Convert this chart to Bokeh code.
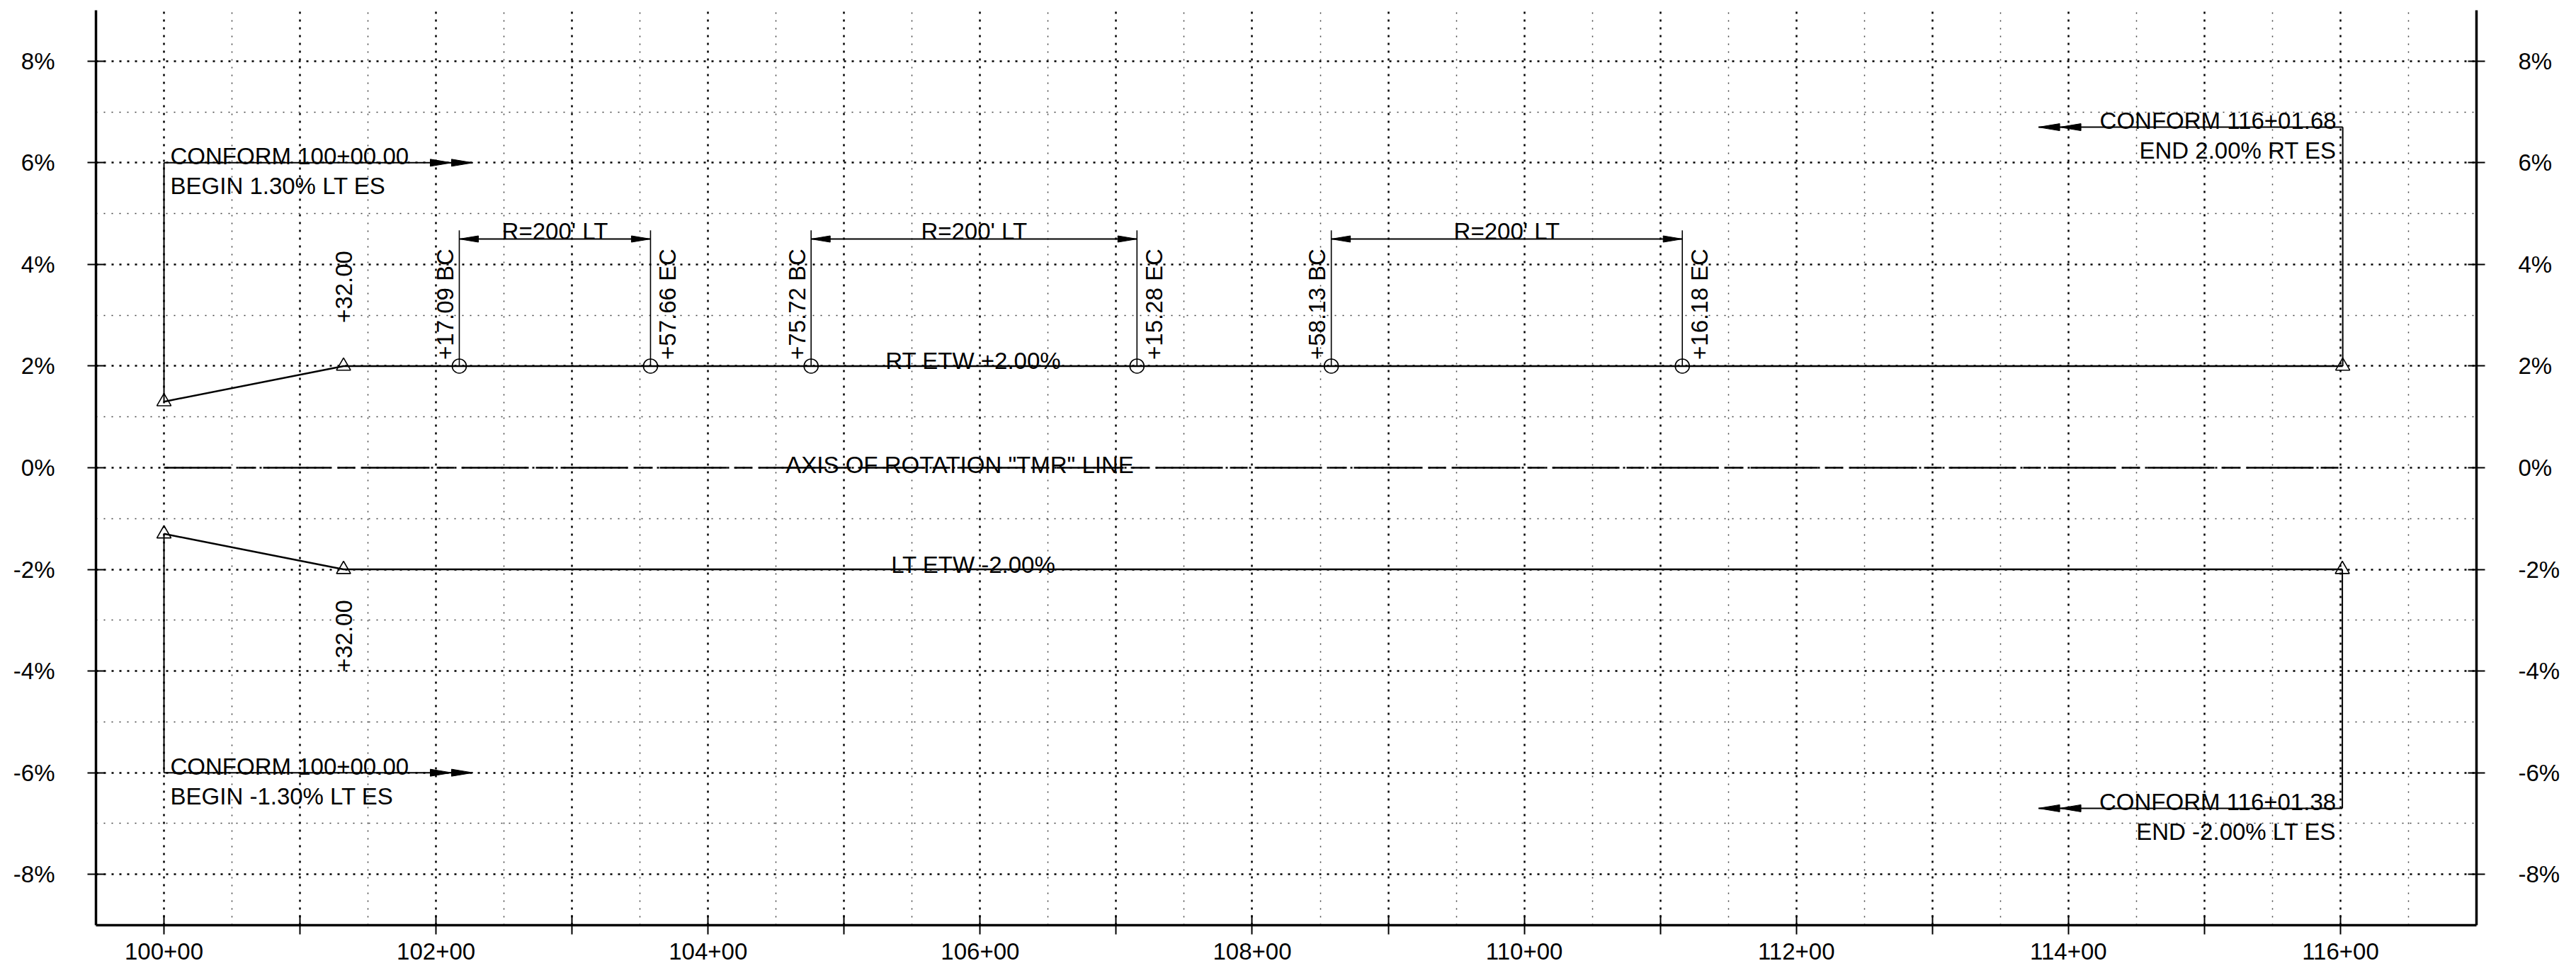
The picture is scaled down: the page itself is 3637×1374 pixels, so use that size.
import numpy as np
from bokeh.plotting import figure
from bokeh.models import (LinearAxis, FixedTicker, CustomJSTickFormatter,
                          Range1d, ColumnDataSource)
from bokeh.core.properties import value
from bokeh.embed import file_html
from bokeh.resources import INLINE

# ------------------------------------------------------------------ data
x_ticks = [100, 101, 102, 103, 104, 105, 106, 107, 108, 109, 110, 111, 112,
           113, 114, 115, 116]
x_tick_labels = ["100+00", "", "102+00", "", "104+00", "", "106+00", "",
                 "108+00", "", "110+00", "", "112+00", "", "114+00", "",
                 "116+00"]
y_ticks = [-8, -6, -4, -2, 0, 2, 4, 6, 8]
y_tick_labels = ["-8%", "-6%", "-4%", "-2%", "0%", "2%", "4%", "6%", "8%"]

# right edge of travelled way (RT ETW) and left edge (LT ETW)
rt_station = [100.00, 101.32, 116.0168]
rt_slope = [1.30, 2.00, 2.00]
lt_station = [100.00, 101.32, 116.0138]
lt_slope = [-1.30, -2.00, -2.00]

# horizontal curves
curve_bc = [102.1709, 104.7572, 108.5813]
curve_ec = [103.5766, 107.1528, 111.1618]
bc_text = ["+17.09 BC", "+75.72 BC", "+58.13 BC"]
ec_text = ["+57.66 EC", "+15.28 EC", "+16.18 EC"]
curve_text = ["R=200' LT", "R=200' LT", "R=200' LT"]
curve_dim_level = 4.5
curve_leader_top = 4.67

# runoff labels
runoff_text = ["+32.00", "+32.00"]
runoff_label_start = [2.85, -4.02]

# conform call-outs
conform_station = [100.00, 100.00, 116.0168, 116.0138]
conform_from = [1.30, -1.30, 2.00, -2.00]
conform_level = [6.0, -6.0, 6.7, -6.7]
conform_arrow_to = [102.27, 102.27, 113.78, 113.78]
conform_line1 = ["CONFORM 100+00.00", "CONFORM 100+00.00",
                 "CONFORM 116+01.68", "CONFORM 116+01.38"]
conform_line2 = ["BEGIN 1.30% LT ES", "BEGIN -1.30% LT ES",
                 "END 2.00% RT ES", "END -2.00% LT ES"]

axis_text = 'AXIS OF ROTATION "TMR" LINE'
axis_text_station = 105.85
etw_text = ["RT ETW +2.00%", "LT ETW -2.00%"]
etw_text_station = 105.95

# ------------------------------------------------------------------ layout
FONT = "Liberation Sans"
FS = "33px"
W, H = 3630, 1372
BL, BT = 135, 14
FW, FH = 3361, 1292
BR = W - BL - FW
BB = H - BT - FH
X0, X1 = 99.5, 117.0
Y0, Y1 = -9.0, 9.0
px_per_x = FW / (X1 - X0)
px_per_y = FH / (Y1 - Y0)

p = figure(width=W, height=H, x_range=Range1d(X0, X1), y_range=Range1d(Y0, Y1),
           output_backend="svg", toolbar_location=None,
           min_border_left=BL, min_border_right=BR,
           min_border_top=BT, min_border_bottom=BB)
p.outline_line_color = None
p.background_fill_color = "white"
p.border_fill_color = "white"

xt = FixedTicker(ticks=x_ticks, minor_ticks=[t + 0.5 for t in x_ticks])
yt = FixedTicker(ticks=y_ticks, minor_ticks=[t + 1 for t in y_ticks[:-1]])
code = "const i = tv.indexOf(tick); return i < 0 ? '' : tl[i];"
xf = CustomJSTickFormatter(args=dict(tv=x_ticks, tl=x_tick_labels), code=code)
yf = CustomJSTickFormatter(args=dict(tv=y_ticks, tl=y_tick_labels), code=code)

p.xaxis[0].ticker = xt
p.xaxis[0].formatter = xf
p.yaxis[0].ticker = yt
p.yaxis[0].formatter = yf
right = LinearAxis(ticker=yt, formatter=yf)
p.add_layout(right, "right")

for ax in (p.xaxis[0], p.yaxis[0], right):
    ax.axis_line_color = "black"
    ax.axis_line_width = 3.5
    ax.major_tick_line_color = "black"
    ax.major_tick_line_width = 2
    ax.major_tick_in = 12
    ax.major_tick_out = 12
    ax.minor_tick_line_color = None
    ax.major_label_text_font = FONT
    ax.major_label_text_font_size = FS
    ax.major_label_text_color = "black"
p.xaxis[0].major_tick_in = 14
p.xaxis[0].major_tick_out = 13
p.xaxis[0].major_label_standoff = 12
p.yaxis[0].major_label_standoff = 46
right.major_label_standoff = 47

for g in (p.xgrid[0], p.ygrid[0]):
    g.grid_line_color = "black"
    g.grid_line_width = 2.5
    g.grid_line_dash = "3 8"
    g.minor_grid_line_color = "black"
    g.minor_grid_line_alpha = 0.75
    g.minor_grid_line_width = 1.5
    g.minor_grid_line_dash = "2 9"

txt = dict(text_font=value(FONT), text_font_size=FS, text_color="black")

# ------------------------------------------------------------------ axis of rotation
p.line([rt_station[0], rt_station[-1]], [0, 0], line_color="black",
       line_width=2.5, line_dash="95 10 25 10")
p.text(x=[axis_text_station], y=[0], text=[axis_text], text_align="center",
       text_baseline="alphabetic", y_offset=-4, **txt)

# ------------------------------------------------------------------ edges
p.line(rt_station, rt_slope, line_color="black", line_width=2.5)
p.line(lt_station, lt_slope, line_color="black", line_width=2.5)
p.scatter(rt_station, rt_slope, marker="triangle", size=20, fill_color=None,
          line_color="black", line_width=1.6)
p.scatter(lt_station, lt_slope, marker="triangle", size=20, fill_color=None,
          line_color="black", line_width=1.6)
p.text(x=[etw_text_station, etw_text_station], y=[rt_slope[-1], lt_slope[-1]],
       text=etw_text, text_align="center", text_baseline="alphabetic",
       y_offset=-7, **txt)

# runoff stations
p.text(x=[rt_station[1], lt_station[1]], y=runoff_label_start, text=runoff_text,
       angle=np.pi / 2, text_align="left", text_baseline="middle", **txt)

# ------------------------------------------------------------------ curves
lvl = rt_slope[1]
n = len(curve_bc)
p.segment(x0=curve_bc, y0=[lvl] * n, x1=curve_bc, y1=[curve_leader_top] * n,
          line_color="black", line_width=1.6)
p.segment(x0=curve_ec, y0=[lvl] * n, x1=curve_ec, y1=[curve_leader_top] * n,
          line_color="black", line_width=1.6)
p.segment(x0=curve_bc, y0=[curve_dim_level] * n, x1=curve_ec,
          y1=[curve_dim_level] * n, line_color="black", line_width=2.2)
p.scatter(curve_bc + curve_ec, [lvl] * (2 * n), marker="circle", size=20,
          fill_color=None, line_color="black", line_width=1.6)

# dimension arrowheads
hl = 27 / px_per_x
hw = 4.5 / px_per_y
xs, ys = [], []
for b, e in zip(curve_bc, curve_ec):
    xs.append([b, b + hl, b + hl])
    ys.append([curve_dim_level, curve_dim_level + hw, curve_dim_level - hw])
    xs.append([e, e - hl, e - hl])
    ys.append([curve_dim_level, curve_dim_level + hw, curve_dim_level - hw])
p.patches(xs, ys, fill_color="black", line_color="black", line_width=1)

p.text(x=[(b + e) / 2 for b, e in zip(curve_bc, curve_ec)], y=[curve_dim_level] * n,
       text=curve_text, text_align="center", text_baseline="alphabetic",
       y_offset=-11, **txt)
p.text(x=curve_bc, y=[lvl] * n, text=bc_text, angle=np.pi / 2, text_align="left",
       text_baseline="middle", x_offset=-20, y_offset=-9, **txt)
p.text(x=curve_ec, y=[lvl] * n, text=ec_text, angle=np.pi / 2, text_align="left",
       text_baseline="middle", x_offset=24, y_offset=-9, **txt)

# ------------------------------------------------------------------ conform call-outs
p.segment(x0=conform_station, y0=conform_from, x1=conform_station, y1=conform_level,
          line_color="black", line_width=2)
p.segment(x0=conform_station, y0=conform_level, x1=conform_arrow_to,
          y1=conform_level, line_color="black", line_width=2)
al = 30 / px_per_x
aw = 5 / px_per_y
xs, ys = [], []
for s, lv, t in zip(conform_station, conform_level, conform_arrow_to):
    d = 1 if t > s else -1
    for k in range(2):
        tip = t - d * al * k
        xs.append([tip, tip - d * al, tip - d * al])
        ys.append([lv, lv + aw, lv - aw])
p.patches(xs, ys, fill_color="black", line_color="black", line_width=1)

left_idx = [i for i in range(4) if conform_arrow_to[i] > conform_station[i]]
right_idx = [i for i in range(4) if conform_arrow_to[i] < conform_station[i]]
for idx, align, xo in ((left_idx, "left", 9), (right_idx, "right", -9)):
    src1 = ColumnDataSource(dict(x=[conform_station[i] for i in idx],
                                 y=[conform_level[i] for i in idx],
                                 t=[conform_line1[i] for i in idx]))
    p.text(x="x", y="y", text="t", source=src1, text_align=align,
           text_baseline="alphabetic", x_offset=xo, y_offset=-9, **txt)
    src2 = ColumnDataSource(dict(x=[conform_station[i] for i in idx],
                                 y=[conform_level[i] for i in idx],
                                 t=[conform_line2[i] for i in idx]))
    p.text(x="x", y="y", text="t", source=src2, text_align=align,
           text_baseline="alphabetic", x_offset=xo, y_offset=33, **txt)

open("out.html", "w").write(file_html(p, INLINE))
